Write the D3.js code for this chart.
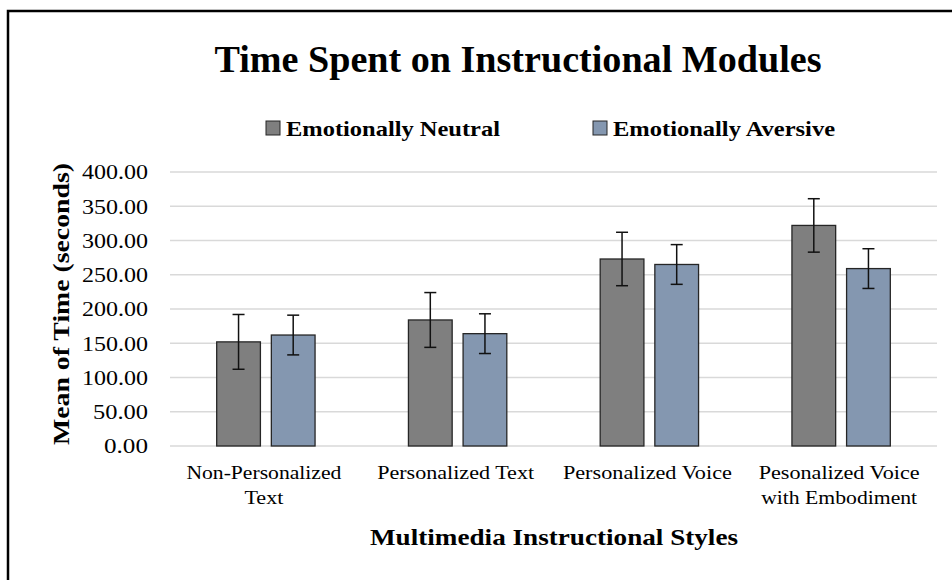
<!DOCTYPE html>
<html>
<head>
<meta charset="utf-8">
<script src="https://cdn.jsdelivr.net/npm/d3@7"></script>
<style>
  html, body { margin: 0; padding: 0; background: #fff; }
  svg { display: block; }
  text { font-family: "Liberation Serif", "Times New Roman", serif; fill: #000; }
</style>
</head>
<body>
<svg id="chart" width="952" height="580"></svg>
<script>
const categories = [["Non-Personalized", "Text"], ["Personalized Text"], ["Personalized Voice"], ["Pesonalized Voice", "with Embodiment"]];
const seriesNames = ["Emotionally Neutral", "Emotionally Aversive"];
const neutralValues = [152, 184, 273, 322];
const neutralErrors = [40, 40, 39, 39];
const aversiveValues = [162, 164, 265, 259];
const aversiveErrors = [29, 29, 29, 29];
const yTicks = [0, 50, 100, 150, 200, 250, 300, 350, 400];
const colors = ["#7f7f7f", "#8497b0"];

const svg = d3.select("#chart");

// outer frame
svg.append("rect").attr("x", 8).attr("y", 11).attr("width", 960).attr("height", 600)
  .attr("fill", "none").attr("stroke", "#000").attr("stroke-width", 2.5);

const plot = { left: 170, right: 937, top: 172, bottom: 446 };
const y = d3.scaleLinear().domain([0, 400]).range([plot.bottom, plot.top]);
const catKeys = categories.map((c, i) => i);
const x0 = d3.scaleBand().domain(catKeys).range([plot.left, plot.right]).padding(0);
const bw = x0.bandwidth();
const x1 = d3.scaleBand().domain([0, 1]).range([bw * 0.2435, bw * 0.7565]).paddingInner(0.2).paddingOuter(0);

// gridlines
svg.append("g").selectAll("line").data(yTicks).join("line")
  .attr("x1", plot.left).attr("x2", plot.right)
  .attr("y1", d => y(d)).attr("y2", d => y(d))
  .attr("stroke", "#d9d9d9").attr("stroke-width", 1.3);

// y axis labels
const fmt = d3.format(".2f");
const yAxis = d3.axisLeft(y).tickValues(yTicks).tickFormat(fmt).tickSize(0).tickPadding(22);
const yg = svg.append("g").attr("transform", `translate(${plot.left},0)`).call(yAxis);
yg.select(".domain").remove();
yg.selectAll("text").attr("font-size", 20).attr("fill", "#000")
  .attr("dy", "0.34em")
  .attr("textLength", d => fmt(d).length * 11).attr("lengthAdjust", "spacingAndGlyphs");

// data rows
const rows = [];
categories.forEach((c, i) => {
  rows.push({ cat: i, s: 0, v: neutralValues[i], e: neutralErrors[i] });
  rows.push({ cat: i, s: 1, v: aversiveValues[i], e: aversiveErrors[i] });
});

svg.append("g").selectAll("rect").data(rows).join("rect")
  .attr("x", d => x0(d.cat) + x1(d.s))
  .attr("width", x1.bandwidth())
  .attr("y", d => y(d.v))
  .attr("height", d => y(0) - y(d.v))
  .attr("fill", d => colors[d.s])
  .attr("stroke", "#262626").attr("stroke-width", 1.3);

// error bars
const eg = svg.append("g").attr("stroke", "#111").attr("stroke-width", 1.5);
rows.forEach(d => {
  const cx = x0(d.cat) + x1(d.s) + x1.bandwidth() / 2;
  eg.append("line").attr("x1", cx).attr("x2", cx).attr("y1", y(d.v + d.e)).attr("y2", y(d.v - d.e));
  [d.v + d.e, d.v - d.e].forEach(t => {
    eg.append("line").attr("x1", cx - 6).attr("x2", cx + 6).attr("y1", y(t)).attr("y2", y(t));
  });
});

// x category labels
const labelWidths = { "Non-Personalized": 155, "Text": 39, "Personalized Text": 157, "Personalized Voice": 169, "Pesonalized Voice": 161, "with Embodiment": 156 };
const xl = svg.append("g");
categories.forEach((lines, i) => {
  const cx = x0(i) + bw / 2 - 2;
  lines.forEach((ln, j) => {
    xl.append("text").attr("x", cx).attr("y", 479 + j * 25)
      .attr("text-anchor", "middle").attr("font-size", 19)
      .attr("textLength", labelWidths[ln] || ln.length * 9.4).attr("lengthAdjust", "spacingAndGlyphs")
      .text(ln);
  });
});

// title
svg.append("text").attr("x", 518).attr("y", 72).attr("text-anchor", "middle")
  .attr("font-size", 38).attr("font-weight", "bold")
  .attr("textLength", 607).attr("lengthAdjust", "spacingAndGlyphs")
  .text("Time Spent on Instructional Modules");

// legend
const legendItems = [
  { sq: 266, tx: 286, len: 214 },
  { sq: 593, tx: 613, len: 222 }
];
seriesNames.forEach((n, i) => {
  const it = legendItems[i];
  svg.append("rect").attr("x", it.sq).attr("y", 121).attr("width", 14).attr("height", 14)
    .attr("fill", colors[i]).attr("stroke", "#262626").attr("stroke-width", 1);
  svg.append("text").attr("x", it.tx).attr("y", 136).attr("font-size", 21).attr("font-weight", "bold")
    .attr("textLength", it.len).attr("lengthAdjust", "spacingAndGlyphs")
    .text(n);
});

// y axis title
svg.append("text").attr("transform", `translate(69,304) rotate(-90)`)
  .attr("text-anchor", "middle").attr("font-size", 23).attr("font-weight", "bold")
  .attr("textLength", 282).attr("lengthAdjust", "spacingAndGlyphs")
  .text("Mean of Time (seconds)");

// x axis title
svg.append("text").attr("x", 554).attr("y", 545).attr("text-anchor", "middle")
  .attr("font-size", 23).attr("font-weight", "bold")
  .attr("textLength", 368).attr("lengthAdjust", "spacingAndGlyphs")
  .text("Multimedia Instructional Styles");
</script>
</body>
</html>
